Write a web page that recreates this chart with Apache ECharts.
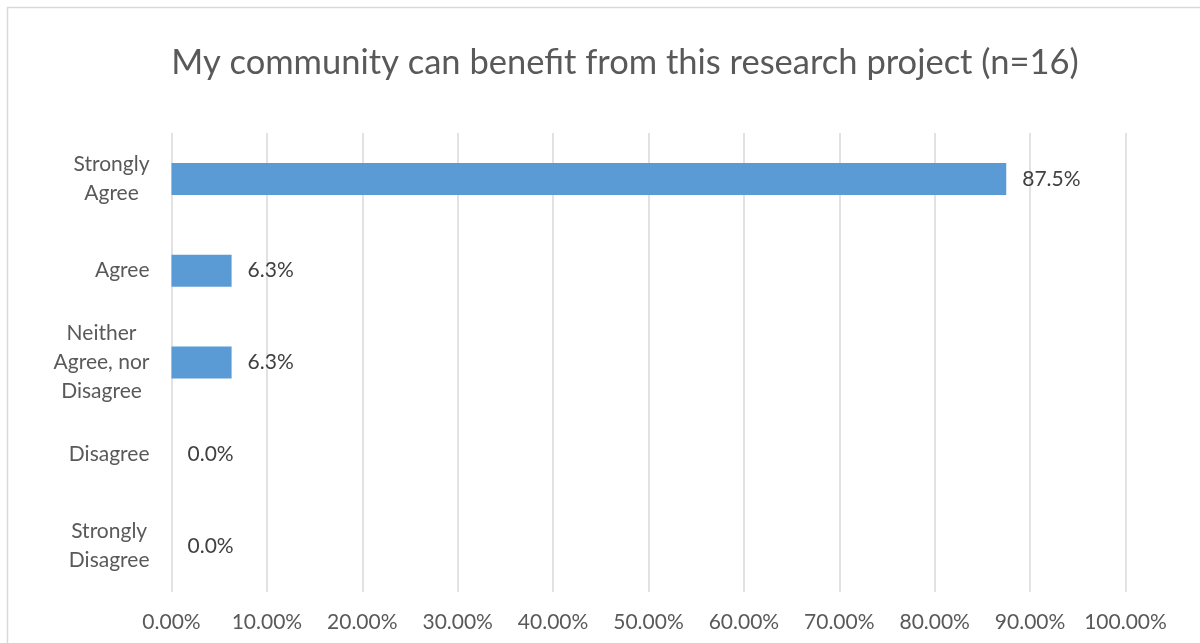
<!DOCTYPE html>
<html>
<head>
<meta charset="utf-8">
<script src="https://cdn.jsdelivr.net/npm/echarts@6/dist/echarts.min.js"></script>
<style>
  html, body { margin: 0; padding: 0; background: #fff; }
  #chart { width: 1200px; height: 643px; }
</style>
</head>
<body>
<div id="chart"></div>
<script>
// Survey responses, share of respondents (%)
const categories = ['Strongly Agree', 'Agree', 'Neither Agree, nor Disagree', 'Disagree', 'Strongly Disagree'];
const categoryLines = [['Strongly', 'Agree'], ['Agree'], ['Neither', 'Agree, nor', 'Disagree'], ['Disagree'], ['Strongly', 'Disagree']];
const shares = [87.5, 6.3, 6.3, 0.0, 0.0];
const xTicks = [0, 10, 20, 30, 40, 50, 60, 70, 80, 90, 100];
const titleText = 'My community can benefit from this research project (n=16)';

const FONT = 'Lato, "Open Sans", sans-serif';
const chart = echarts.init(document.getElementById('chart'), null, { renderer: 'canvas' });

chart.setOption({
  backgroundColor: '#ffffff',
  animation: false,
  textStyle: { fontFamily: FONT },
  title: {
    text: titleText,
    left: 620,
    top: 40,
    textAlign: 'center',
    textStyle: { fontFamily: FONT, fontSize: 34.5, fontWeight: 'normal', color: '#595959' }
  },
  graphic: [{
    type: 'rect',
    silent: true,
    shape: { x: 7.5, y: 7.5, width: 1220, height: 700 },
    style: { fill: null, stroke: '#d9d9d9', lineWidth: 1.5 }
  }],
  grid: { left: 171.5, right: 74.5, top: 133, bottom: 51, containLabel: false },
  xAxis: {
    type: 'value',
    min: xTicks[0],
    max: xTicks[xTicks.length - 1],
    interval: xTicks[1] - xTicks[0],
    axisLine: { show: false },
    axisTick: { show: false },
    splitLine: { show: true, lineStyle: { color: '#d9d9d9', width: 1.5 } },
    axisLabel: {
      margin: 20,
      color: '#595959',
      fontFamily: FONT,
      fontSize: 21,
      formatter: v => v.toFixed(2) + '%'
    }
  },
  yAxis: {
    type: 'category',
    data: categories,
    inverse: true,
    axisLine: { show: false },
    axisTick: { show: false },
    splitLine: { show: false },
    axisLabel: {
      margin: 22,
      align: 'right',
      formatter: (v, i) => categoryLines[i].map(s => '{c|' + s + '}').join('\n'),
      rich: {
        c: { align: 'center', color: '#595959', fontFamily: FONT, fontSize: 21, lineHeight: 29 }
      }
    }
  },
  series: [{
    type: 'bar',
    data: shares,
    barWidth: 32,
    itemStyle: { color: '#5b9bd5' },
    label: {
      show: true,
      position: 'right',
      distance: 16,
      color: '#404040',
      fontFamily: FONT,
      fontSize: 21,
      formatter: p => p.value.toFixed(1) + '%'
    }
  }]
});
</script>
</body>
</html>
